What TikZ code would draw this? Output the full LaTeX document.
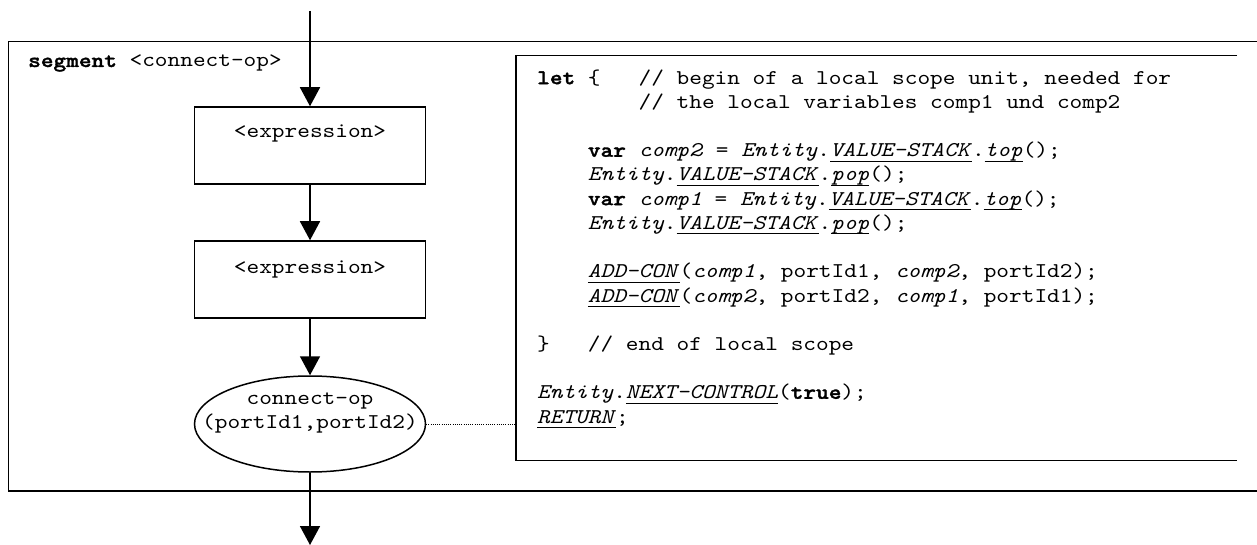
\documentclass[tikz,border=0pt]{standalone}
\usepackage{fontspec}
\newfontfamily\cour{lmmono10-regular.otf}[FakeStretch=1.15, BoldFont=lmmonolt10-bold.otf, BoldFeatures={FakeBold=1.5}, ItalicFont=lmmono10-italic.otf]
\usetikzlibrary{arrows.meta,shapes.geometric}
\newcommand\myul[1]{\setbox0\hbox{#1}\rlap{\rule[-5pt]{\wd0}{1.2pt}}\box0}
\newcommand\sk{\phantom{x}}
\begin{document}
\begin{tikzpicture}[x=1pt,y=-1pt,
  txt/.style={anchor=base west, inner sep=0pt, font=\fontsize{21}{24}\selectfont\cour},
  ctxt/.style={anchor=base, inner sep=0pt, font=\fontsize{21}{24}\selectfont\cour},
  stepbox/.style={draw, line width=1.5pt, rectangle, minimum width=231pt, minimum height=77pt, inner sep=0pt},
  opoval/.style={draw, line width=1.5pt, ellipse, minimum width=231pt, minimum height=96pt, inner sep=0pt},
  frameline/.style={line width=1.7pt},
  flow/.style={line width=1.6pt, -{Triangle[width=20pt,length=19pt]}},
  link/.style={line width=1pt, dash pattern=on 1pt off 1.2pt}]
\useasboundingbox (0,0) rectangle (1257,545);
% outer segment frame (open at right)
\draw[frameline] (1257,41.5) -- (8.5,41.5) -- (8.5,491) -- (1257,491);
\node[txt] (seg) at (28,67) {\textbf{segment}\sk<connect-op>};
% code frame (open at right)
\draw[frameline] (1237,55.6) -- (516,55.6) -- (516,460.5) -- (1237,460.5);
\coordinate (cbl) at (516,424);
% flow nodes
\node[stepbox] (b1) at (310,145.5) {};
\node[ctxt] (b1t) at (310,138) {<expression>};
\node[stepbox] (b2) at (310,279.5) {};
\node[ctxt] (b2t) at (310,273) {<expression>};
\node[opoval] (op) at (310,424) {};
\node[ctxt] (opt1) at (310,404) {connect-op};
\node[ctxt] (opt2) at (310,428) {(portId1,portId2)};
\coordinate (start) at (310,11);
\coordinate (finish) at (310,545);
\draw[flow] (start) -- (b1.north);
\draw[flow] (b1.south) -- (b2.north);
\draw[flow] (b2.south) -- (op.north);
\draw[flow] (op.south) -- (finish);
\draw[link] (op.east) -- (cbl);
% code text
\node[txt] (c0) at (537,84.2) {\textbf{let}\sk\{\sk\sk\sk//\sk begin\sk of\sk a\sk local\sk scope\sk unit,\sk needed\sk for};
\node[txt] (c1) at (537,108.4) {\sk\sk\sk\sk\sk\sk\sk\sk//\sk the\sk local\sk variables\sk comp1\sk und\sk comp2};
\node[txt] (c3) at (537,156.8) {\sk\sk\sk\sk\textbf{var}\sk\textit{comp2}\sk=\sk\textit{Entity}.\myul{\textit{VALUE-STACK}}.\myul{\textit{top}}();};
\node[txt] (c4) at (537,181.0) {\sk\sk\sk\sk\textit{Entity}.\myul{\textit{VALUE-STACK}}.\myul{\textit{pop}}();};
\node[txt] (c5) at (537,205.2) {\sk\sk\sk\sk\textbf{var}\sk\textit{comp1}\sk=\sk\textit{Entity}.\myul{\textit{VALUE-STACK}}.\myul{\textit{top}}();};
\node[txt] (c6) at (537,229.4) {\sk\sk\sk\sk\textit{Entity}.\myul{\textit{VALUE-STACK}}.\myul{\textit{pop}}();};
\node[txt] (c8) at (537,277.8) {\sk\sk\sk\sk\myul{\textit{ADD-CON}}(\textit{comp1},\sk portId1,\sk\textit{comp2},\sk portId2);};
\node[txt] (c9) at (537,302.0) {\sk\sk\sk\sk\myul{\textit{ADD-CON}}(\textit{comp2},\sk portId2,\sk\textit{comp1},\sk portId1);};
\node[txt] (c11) at (537,350.4) {\}\sk\sk\sk//\sk end\sk of\sk local\sk scope};
\node[txt] (c13) at (537,398.8) {\textit{Entity}.\myul{\textit{NEXT-CONTROL}}(\textbf{true});};
\node[txt] (c14) at (537,423.0) {\myul{\textit{RETURN}};};
\end{tikzpicture}
\end{document}
